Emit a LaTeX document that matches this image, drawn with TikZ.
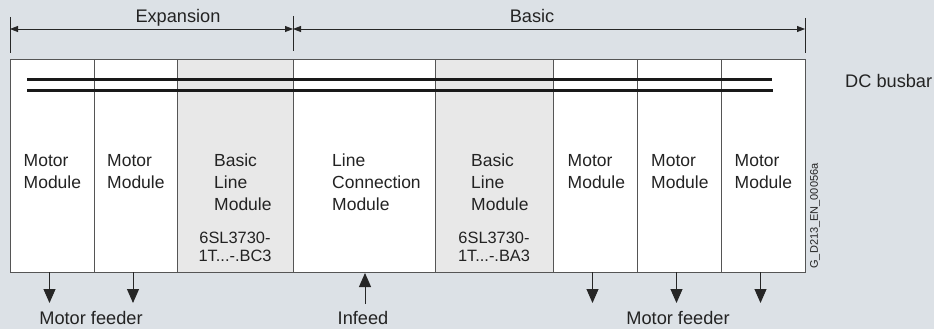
\documentclass[tikz,border=0pt]{standalone}
\usepackage{fontspec}
\setmainfont{Liberation Sans}
\usepackage{xcolor}
\usetikzlibrary{arrows.meta,positioning,calc}
\definecolor{mybg}{RGB}{220,225,230}
\definecolor{myshade}{RGB}{232,232,232}
\definecolor{myline}{RGB}{85,85,85}
\definecolor{mytext}{RGB}{35,35,35}

\begin{document}
\begin{tikzpicture}[x=1pt, y=-1pt]
    \tikzstyle{col}=[draw=myline, line width=1pt, fill=white, outer sep=0pt, inner sep=0pt, minimum height=212pt, anchor=north west]
    \tikzstyle{lbl}=[text=mytext, font=\fontsize{17.5}{22}\selectfont, align=left, inner sep=0pt]
    \tikzstyle{outer}=[text=mytext, font=\fontsize{18.2}{22}\selectfont, inner sep=0pt]
    \tikzstyle{code}=[text=mytext, font=\fontsize{16.4}{18}\selectfont, align=center, inner sep=0pt, anchor=north]
    \tikzstyle{feed}=[draw=black!85, line width=1pt, -{Triangle[length=14pt, width=12pt]}]
    \tikzstyle{dim}=[draw=black!85, line width=0.8pt, {Triangle[length=8pt, width=6pt]}-{Triangle[length=8pt, width=6pt]}]
    \tikzstyle{bar}=[draw=black!90, line width=3pt]
    \fill[mybg] (0,0) rectangle (934,329);
    \useasboundingbox (0,0) rectangle (934,329);
    % modules
    \node[col, minimum width=84pt] (mm1) at (10,60) {};
    \node[col, minimum width=83pt, right=0pt of mm1] (mm2) {};
    \node[col, minimum width=116pt, right=0pt of mm2, fill=myshade] (blmx) {};
    \node[col, minimum width=142pt, right=0pt of blmx] (lcm) {};
    \node[col, minimum width=118pt, right=0pt of lcm, fill=myshade] (blmb) {};
    \node[col, minimum width=84pt, right=0pt of blmb] (mm3) {};
    \node[col, minimum width=84pt, right=0pt of mm3] (mm4) {};
    \node[col, minimum width=84pt, right=0pt of mm4] (mm5) {};
    % module texts
    \node[lbl, anchor=north west] (t1) at (23.5,154) {Motor\\Module};
    \node[lbl, anchor=north west] (t2) at (107,154) {Motor\\Module};
    \node[lbl, anchor=north west] (t3) at (214,154) {Basic\\Line\\Module};
    \node[lbl, anchor=north west] (t4) at (332,154) {Line\\Connection\\Module};
    \node[lbl, anchor=north west] (t5) at (471,154) {Basic\\Line\\Module};
    \node[lbl, anchor=north west] (t6) at (567.5,154) {Motor\\Module};
    \node[lbl, anchor=north west] (t7) at (651,154) {Motor\\Module};
    \node[lbl, anchor=north west] (t8) at (734.5,154) {Motor\\Module};
    \node[code] (c3) at (blmx.center |- 0,231.6) {6SL3730-\\1T...-.BC3};
    \node[code] (c5) at (blmb.center |- 0,231.6) {6SL3730-\\1T...-.BA3};
    % DC busbar
    \coordinate (b1l) at (27,79);
    \coordinate (b1r) at (772,79);
    \coordinate (b2l) at (27,90);
    \coordinate (b2r) at (773,90);
    \draw[bar] (b1l) -- (b1r);
    \draw[bar] (b2l) -- (b2r);
    \node[outer, anchor=base west] (dcb) at (845,88) {DC busbar};
    % dimension line
    \coordinate (k1t) at (10,17);  \coordinate (k1b) at (10,53);
    \coordinate (k2t) at (293,16); \coordinate (k2b) at (293,51);
    \coordinate (k3t) at (805,18); \coordinate (k3b) at (805,53);
    \draw[black!85, line width=0.8pt] (k1t) -- (k1b);
    \draw[black!85, line width=0.8pt] (k2t) -- (k2b);
    \draw[black!85, line width=0.8pt] (k3t) -- (k3b);
    \draw[dim] (k1t |- 0,29) -- (k2t |- 0,29);
    \draw[dim] (k2t |- 0,29) -- (k3t |- 0,29);
    \node[outer, anchor=base] (exp) at (178,23) {Expansion};
    \node[outer, anchor=base] (bas) at (532,23) {Basic};
    % feeders
    \coordinate (f1) at ($(mm1.south)+(-2.5,31)$);
    \coordinate (f2) at ($(mm2.south)+(-2.5,31)$);
    \coordinate (f3) at ($(mm3.south)+(-2.5,31)$);
    \coordinate (f4) at ($(mm4.south)+(-2.5,31)$);
    \coordinate (f5) at ($(mm5.south)+(-2.5,31)$);
    \coordinate (inf) at ($(lcm.south)+(1,32)$);
    \draw[feed] (mm1.south -| f1) -- (f1);
    \draw[feed] (mm2.south -| f2) -- (f2);
    \draw[feed] (mm3.south -| f3) -- (f3);
    \draw[feed] (mm4.south -| f4) -- (f4);
    \draw[feed] (mm5.south -| f5) -- (f5);
    \draw[feed] (inf) -- ($(lcm.south -| inf)+(0,1)$);
    \node[outer, anchor=base] (mf1) at (91,324) {Motor feeder};
    \node[outer, anchor=base] (ifd) at (363,324) {Infeed};
    \node[outer, anchor=base] (mf2) at (678,324) {Motor feeder};
    % drawing id
    \node[text=mytext, font=\fontsize{11}{13}\selectfont, rotate=90, inner sep=0pt] (gid) at (815,216) {G\_D213\_EN\_00056a};
\end{tikzpicture}
\end{document}
